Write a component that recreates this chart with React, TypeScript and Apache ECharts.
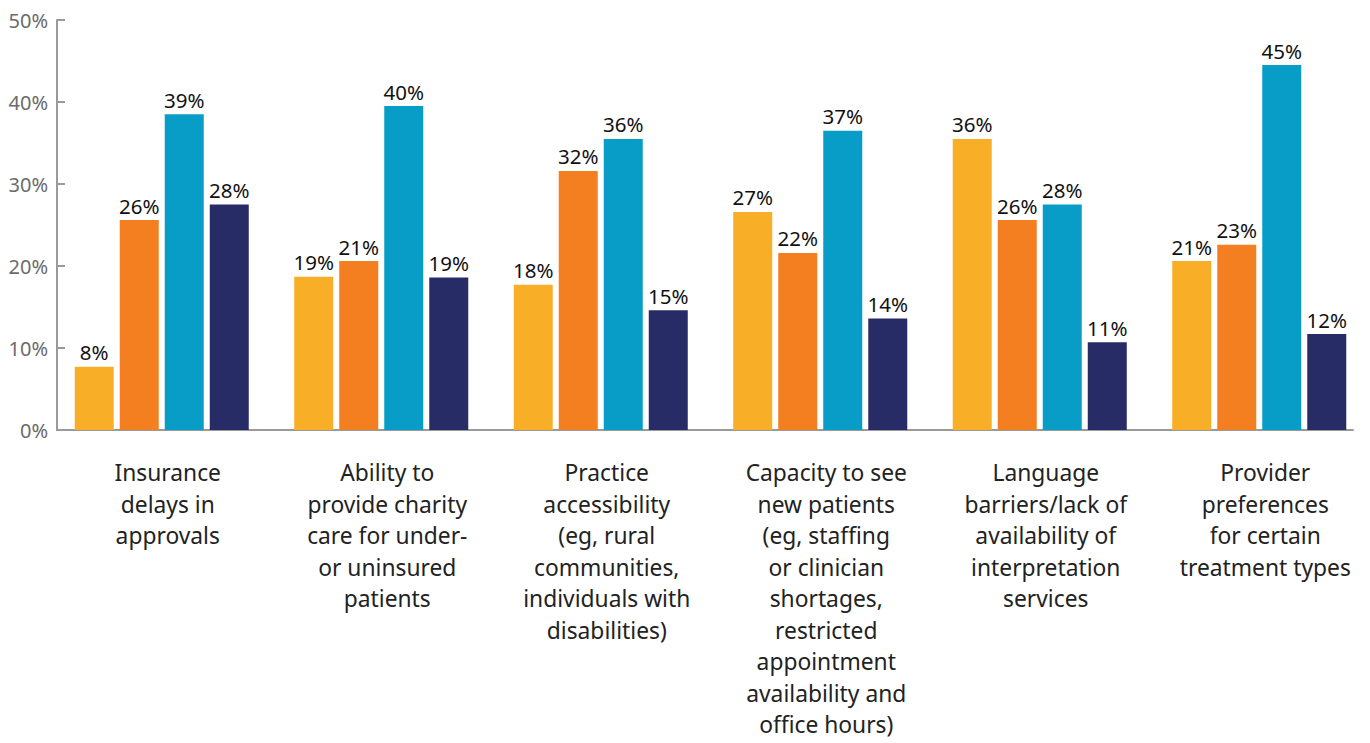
import React, { useEffect, useRef } from "react";
import * as echarts from "echarts";

const categories = [
  "Insurance\ndelays in\napprovals",
  "Ability to\nprovide charity\ncare for under-\nor uninsured\npatients",
  "Practice\naccessibility\n(eg, rural\ncommunities,\nindividuals with\ndisabilities)",
  "Capacity to see\nnew patients\n(eg, staffing\nor clinician\nshortages,\nrestricted\nappointment\navailability and\noffice hours)",
  "Language\nbarriers/lack of\navailability of\ninterpretation\nservices",
  "Provider\npreferences\nfor certain\ntreatment types",
];

const seriesA = [7.7, 18.7, 17.7, 26.6, 35.5, 20.6];
const seriesB = [25.6, 20.6, 31.6, 21.6, 25.6, 22.6];
const seriesC = [38.5, 39.5, 35.5, 36.5, 27.5, 44.5];
const seriesD = [27.5, 18.6, 14.6, 13.6, 10.7, 11.7];
const labelsA = ["8%", "19%", "18%", "27%", "36%", "21%"];
const labelsB = ["26%", "21%", "32%", "22%", "26%", "23%"];
const labelsC = ["39%", "40%", "36%", "37%", "28%", "45%"];
const labelsD = ["28%", "19%", "15%", "14%", "11%", "12%"];
const yTicks = [0, 10, 20, 30, 40, 50];
const colors = ["#F9AE28", "#F47F20", "#079DC6", "#282C66"];

const FONT = "'Noto Sans', sans-serif";

export default function App() {
  const ref = useRef<HTMLDivElement>(null);
  useEffect(() => {
    if (!ref.current) return;
    const chart = echarts.init(ref.current, null, { renderer: "svg" });
    const mk = (name: string, data: number[], labels: string[], color: string) => ({
      name,
      type: "bar",
      xAxisIndex: 0,
      yAxisIndex: 0,
      data,
      barWidth: 39,
      barGap: "15.4%",
      itemStyle: { color },
      label: {
        show: true,
        position: "top",
        distance: 4,
        formatter: (p: any) => labels[p.dataIndex],
        color: "#111",
        fontSize: 20.5,
        fontFamily: FONT,
      },
    });
    const axisGray = "#9a9a9a";
    chart.setOption({
      animation: false,
      grid: [
        { left: 52, right: 1, top: 20, bottom: 313, containLabel: false, outerBoundsMode: "none" },
        { left: 57, right: 17, top: 20, bottom: 313, containLabel: false, outerBoundsMode: "none" },
      ],
      xAxis: [
        {
          type: "category",
          gridIndex: 0,
          data: categories,
          axisLine: { show: false },
          axisTick: { show: false },
          axisLabel: {
            interval: 0,
            color: "#222",
            fontSize: 22.8,
            lineHeight: 31.5,
            margin: 27,
            fontFamily: FONT,
            align: "center",
            padding: [0, 0, 0, 12],
          },
        },
        {
          type: "value",
          gridIndex: 1,
          min: 0,
          max: 1,
          axisLine: { show: true, onZero: false, lineStyle: { color: axisGray, width: 2 } },
          axisTick: { show: false },
          axisLabel: { show: false },
          splitLine: { show: false },
        },
      ],
      yAxis: [
        {
          type: "value",
          gridIndex: 0,
          min: 0,
          max: 50,
          interval: 10,
          show: false,
          splitLine: { show: false },
        },
        {
          type: "value",
          gridIndex: 1,
          min: yTicks[0],
          max: yTicks[yTicks.length - 1],
          interval: 10,
          splitLine: { show: false },
          axisLine: { show: true, lineStyle: { color: axisGray, width: 2 } },
          axisTick: { show: true, inside: true, length: 8, lineStyle: { color: axisGray, width: 2 } },
          axisLabel: {
            formatter: "{value}%",
            color: "#6b6b6b",
            fontSize: 20,
            margin: 9,
            fontFamily: FONT,
          },
        },
      ],
      series: [
        mk("A", seriesA, labelsA, colors[0]),
        mk("B", seriesB, labelsB, colors[1]),
        mk("C", seriesC, labelsC, colors[2]),
        mk("D", seriesD, labelsD, colors[3]),
      ],
    });
    return () => chart.dispose();
  }, []);
  return <div ref={ref} style={{ width: 1370, height: 743, position: "absolute", left: 0, top: 0 }} />;
}
